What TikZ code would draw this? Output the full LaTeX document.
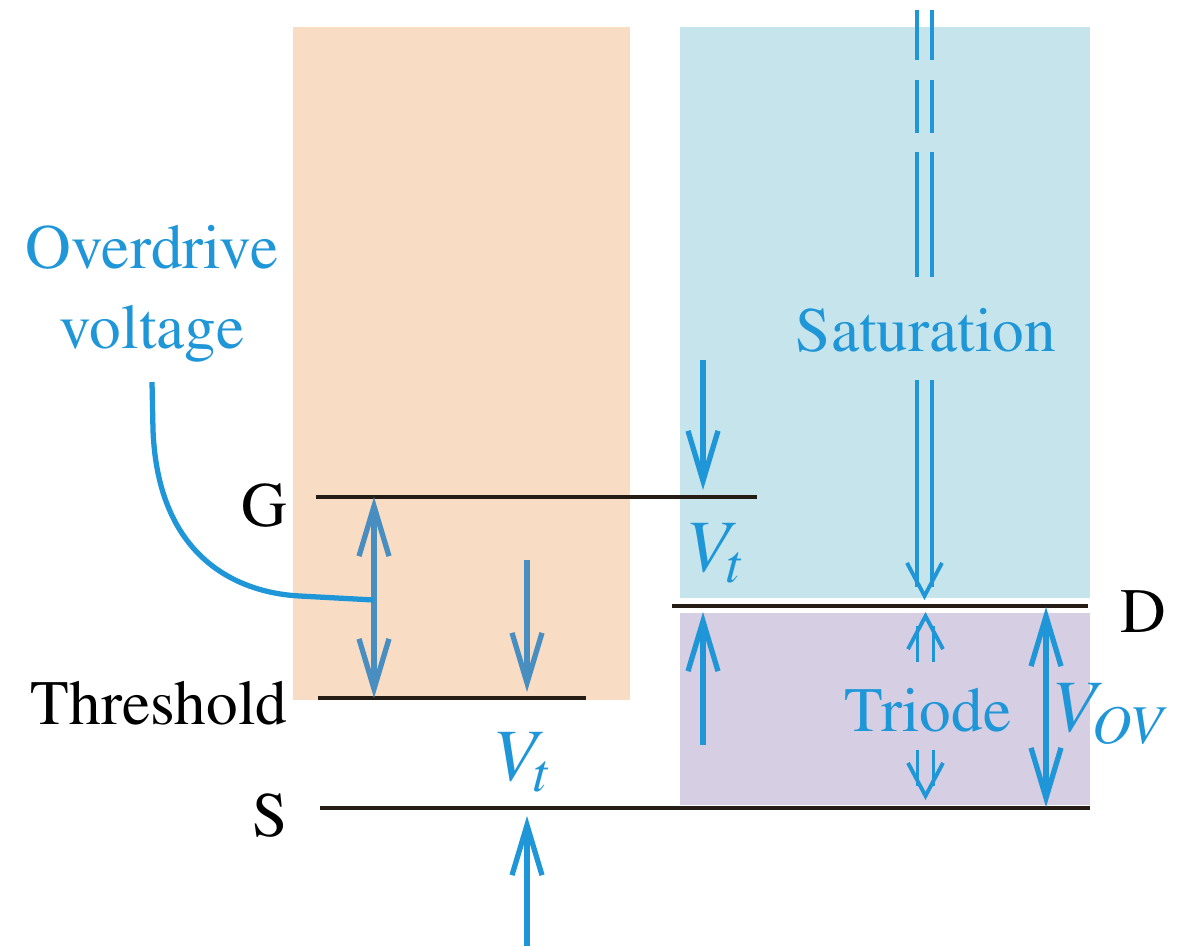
\documentclass[tikz,border=0pt]{standalone}
\usepackage[T1]{fontenc}
\usepackage{mathptmx}
\usepackage{tikz}
\usetikzlibrary{positioning, arrows.meta, calc}

\definecolor{peach}{RGB}{248,220,196}
\definecolor{satblue}{RGB}{198,228,236}
\definecolor{trilav}{RGB}{214,206,226}
\definecolor{txtblue}{RGB}{30,150,215}
\definecolor{dimblue}{RGB}{72,142,192}
\definecolor{levelline}{RGB}{38,28,22}

\newcommand{\bigtxt}{\fontsize{18}{21}\selectfont}
\newcommand{\vtxt}{\fontsize{21}{24}\selectfont}

\begin{document}
\begin{tikzpicture}[
  level/.style={draw=levelline, line width=0.9pt},
  lab/.style={font=\bigtxt, text=black, inner sep=0pt},
  bluelab/.style={font=\bigtxt, text=txtblue, inner sep=0pt},
  vlab/.style={font=\vtxt, text=txtblue, inner sep=0pt},
  varr/.style={draw=txtblue, line width=1.5pt, -{Straight Barb[length=5mm,width=3mm]}},
  vvarr/.style={draw=txtblue, line width=1.5pt, {Straight Barb[length=5mm,width=3mm]}-{Straight Barb[length=5mm,width=3mm]}},
  dbl/.style={draw=txtblue, line width=1.1pt},
  dbltip/.style={draw=txtblue, line width=1.1pt, -{Straight Barb[length=3.3mm,width=3.5mm]}}
]
\useasboundingbox (0,0) rectangle (11.93,-9.46);

% regions
\fill[peach] (2.93,-0.27) rectangle (6.30,-7.00);
\fill[satblue] (6.80,-0.27) rectangle (10.90,-5.98);
\fill[trilav] (6.80,-6.13) rectangle (10.90,-8.05);

% levels
\coordinate (g1) at (3.16,-4.97);  \coordinate (g2) at (7.57,-4.97);
\coordinate (th1) at (3.18,-6.98); \coordinate (th2) at (5.86,-6.98);
\coordinate (s1) at (3.20,-8.08);  \coordinate (s2) at (10.90,-8.08);
\coordinate (d1) at (6.72,-6.06);  \coordinate (d2) at (10.88,-6.06);
\draw[level] (g1) -- (g2);
\draw[level] (th1) -- (th2);
\draw[level] (s1) -- (s2);
\draw[level] (d1) -- (d2);

\node (glab) [lab, anchor=east] at (2.88,-5.05) {G};
\node (thlab) [lab, anchor=east] at (2.88,-7.03) {Threshold};
\node (slab) [lab, anchor=east] at (2.88,-8.15) {S};
\node (dlab) [lab, anchor=west] at (11.20,-6.12) {D};

% labels
\node (ovlab) [bluelab, align=center] at (1.52,-2.94) {Overdrive\\[1.6pt]voltage};
\node (satlab) [bluelab] at (9.26,-3.30) {Saturation};
\node (trilab) [bluelab] at (9.28,-7.10) {Triode};
\node (vtl) [vlab] at (5.25,-7.62) {$V_{t}$};
\node (vtr) [vlab] at (7.18,-5.53) {$V_{t}$};
\node (vov) [vlab] at (11.12,-7.14) {$V_{\mathit{OV}}$};

% overdrive
\coordinate (ovtop) at (3.74,-4.97);
\coordinate (ovbot) at (3.74,-6.98);
\coordinate (ovmid) at (3.74,-6.00);
\coordinate (lead) at (1.52,-3.82);
\draw[vvarr, draw=dimblue] (ovbot) -- (ovtop);
\draw[draw=txtblue, line width=1.5pt] (lead) -- (1.53,-4.30)
  .. controls (1.58,-5.60) and (2.40,-5.93) .. (3.00,-5.96) -- (ovmid);

% threshold arrows
\coordinate (vta) at (5.27,-5.60);
\coordinate (vtb) at (5.27,-6.92);
\draw[varr, draw=dimblue] (vta) -- (vtb);
\coordinate (vsa) at (5.27,-9.46);
\coordinate (vsb) at (5.27,-8.16);
\draw[varr] (vsa) -- (vsb);

\coordinate (vda) at (7.03,-3.60);
\coordinate (vdb) at (7.03,-4.90);
\draw[varr] (vda) -- (vdb);
\coordinate (vua) at (7.03,-7.45);
\coordinate (vub) at (7.03,-6.12);
\draw[varr] (vua) -- (vub);

% V_OV
\coordinate (ova) at (10.46,-6.07);
\coordinate (ovb) at (10.46,-8.07);
\draw[vvarr] (ovb) -- (ova);

% saturation double lines
\foreach \ya/\yb in {-0.10/-0.60, -0.80/-1.33, -1.52/-2.77} {
  \draw[dbl] (9.17,\ya) -- (9.17,\yb);
  \draw[dbl] (9.32,\ya) -- (9.32,\yb);
}
\coordinate (sattip) at (9.245,-6.00);
\draw[dbl] (9.17,-3.80) -- (9.17,-5.87);
\draw[dbl] (9.32,-3.80) -- (9.32,-5.87);
\draw[dbltip] ($(sattip)+(0,0.02)$) -- (sattip);

% triode double arrows
\coordinate (tritop) at (9.255,-6.12);
\coordinate (tribot) at (9.255,-8.00);
\draw[dbl] (9.175,-6.62) -- (9.175,-6.26);
\draw[dbl] (9.335,-6.62) -- (9.335,-6.26);
\draw[dbltip] ($(tritop)+(0,-0.02)$) -- (tritop);
\draw[dbl] (9.175,-7.50) -- (9.175,-7.86);
\draw[dbl] (9.335,-7.50) -- (9.335,-7.86);
\draw[dbltip] ($(tribot)+(0,0.02)$) -- (tribot);
\end{tikzpicture}
\end{document}
